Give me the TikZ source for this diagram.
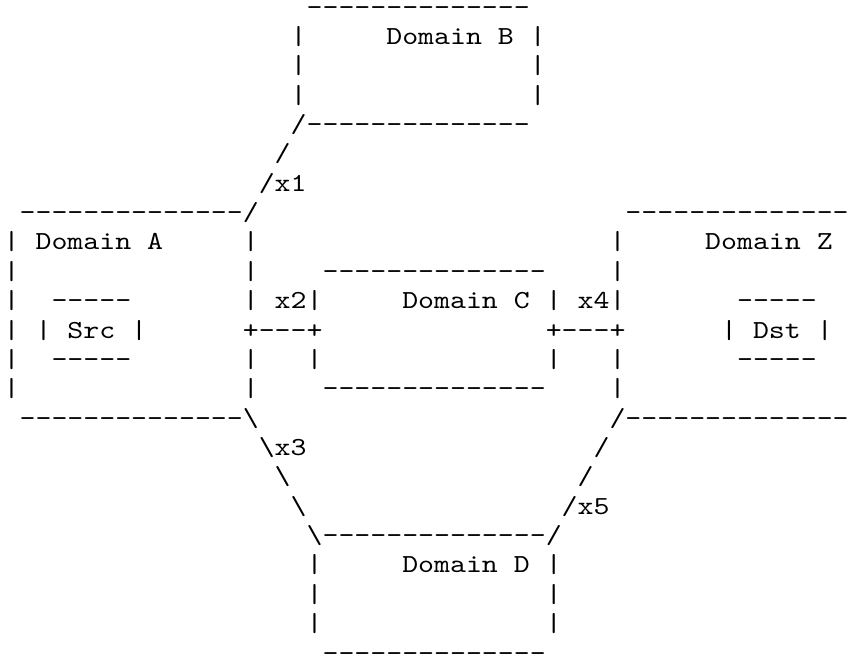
\documentclass[tikz,border=0pt]{standalone}
\usepackage{fontspec}
\newfontfamily\asciifont[Extension=.otf,FakeStretch=1.168]{lmmono10-regular}
\tikzset{
  ascii/.style={anchor=base west, inner sep=0pt, outer sep=0pt,
    font=\asciifont\fontsize{26}{29}\selectfont, text=black}
}
% \asc{name}{line}{column}{text}
\newcommand\asc[4]{\node[ascii] (#1) at ({3.7+15.943*#3},{15.1+29.36*#2}) {#4};}
\begin{document}
\begin{tikzpicture}[x=1pt,y=-1pt]
\fill[white] (0,0) rectangle (849,657);
\useasboundingbox (0,0) rectangle (849,657);
% Domain B
\asc{bTop}{0}{19}{--------------}
\asc{bL1}{1}{18}{|}
\asc{bName}{1}{24}{Domain}
\asc{bNameB}{1}{31}{B}
\asc{bR1}{1}{33}{|}
\asc{bL2}{2}{18}{|}
\asc{bR2}{2}{33}{|}
\asc{bL3}{3}{18}{|}
\asc{bR3}{3}{33}{|}
\asc{bBot}{4}{18}{/--------------}
% link x1
\asc{xa}{5}{17}{/}
\asc{xb}{6}{16}{/x1}
% Domain A / Z tops
\asc{aTop}{7}{1}{--------------/}
\asc{zTop}{7}{39}{--------------}
% line 8
\asc{aL8}{8}{0}{|}
\asc{aName}{8}{2}{Domain}
\asc{aNameA}{8}{9}{A}
\asc{aR8}{8}{15}{|}
\asc{zL8}{8}{38}{|}
\asc{zName}{8}{44}{Domain}
\asc{zNameZ}{8}{51}{Z}
% line 9
\asc{aL9}{9}{0}{|}
\asc{aR9}{9}{15}{|}
\asc{cTop}{9}{20}{--------------}
\asc{zL9}{9}{38}{|}
% line 10
\asc{aL10}{10}{0}{|}
\asc{srcTop}{10}{3}{-----}
\asc{aR10}{10}{15}{|}
\asc{xTwo}{10}{17}{x2|}
\asc{cName}{10}{25}{Domain}
\asc{cNameC}{10}{32}{C}
\asc{cR10}{10}{34}{|}
\asc{xFour}{10}{36}{x4|}
\asc{dstTop}{10}{46}{-----}
% line 11
\asc{aL11}{11}{0}{|}
\asc{srcL}{11}{2}{|}
\asc{src}{11}{4}{Src}
\asc{srcR}{11}{8}{|}
\asc{lnkAC}{11}{15}{+---+}
\asc{lnkCZ}{11}{34}{+---+}
\asc{dstL}{11}{45}{|}
\asc{dst}{11}{47}{Dst}
\asc{dstR}{11}{51}{|}
% line 12
\asc{aL12}{12}{0}{|}
\asc{srcBot}{12}{3}{-----}
\asc{aR12}{12}{15}{|}
\asc{cL12}{12}{19}{|}
\asc{cR12}{12}{34}{|}
\asc{zL12}{12}{38}{|}
\asc{dstBot}{12}{46}{-----}
% line 13
\asc{aL13}{13}{0}{|}
\asc{aR13}{13}{15}{|}
\asc{cBot}{13}{20}{--------------}
\asc{zL13}{13}{38}{|}
% line 14
\asc{aBot}{14}{1}{--------------\textbackslash}
\asc{zBot}{14}{38}{/--------------}
% links x3, x5
\asc{ya}{15}{16}{\textbackslash x3}
\asc{za}{15}{37}{/}
\asc{yb}{16}{17}{\textbackslash}
\asc{zb}{16}{36}{/}
\asc{yc}{17}{18}{\textbackslash}
\asc{zc}{17}{35}{/x5}
% Domain D
\asc{dTop}{18}{19}{\textbackslash--------------/}
\asc{dL19}{19}{19}{|}
\asc{dName}{19}{25}{Domain}
\asc{dNameD}{19}{32}{D}
\asc{dR19}{19}{34}{|}
\asc{dL20}{20}{19}{|}
\asc{dR20}{20}{34}{|}
\asc{dL21}{21}{19}{|}
\asc{dR21}{21}{34}{|}
\asc{dBot}{22}{20}{--------------}
\end{tikzpicture}
\end{document}
